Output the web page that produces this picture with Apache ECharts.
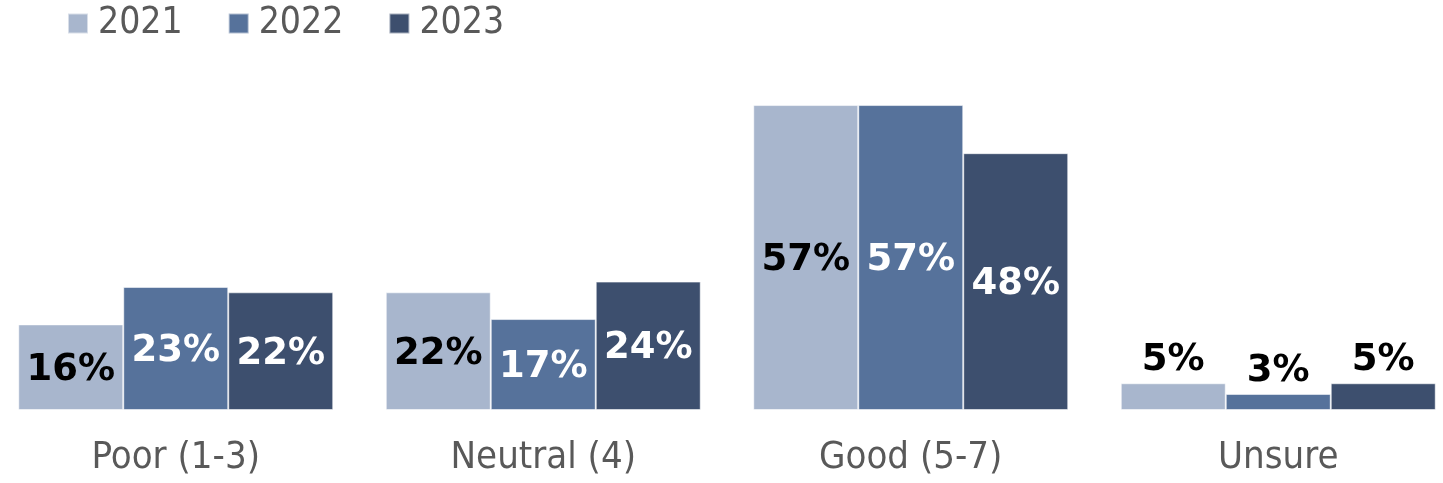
<!DOCTYPE html>
<html>
<head>
<meta charset="utf-8">
<script src="https://cdn.jsdelivr.net/npm/echarts@6/dist/echarts.min.js"></script>
<style>
  html, body { margin: 0; padding: 0; background: #fff; }
  #chart { width: 1443px; height: 483px; }
</style>
</head>
<body>
<div id="chart"></div>
<script>
// Survey rating distribution by year (percent of respondents)
const categories = ['Poor (1-3)', 'Neutral (4)', 'Good (5-7)', 'Unsure'];
const years = ['2021', '2022', '2023'];
const values2021 = [16, 22, 57, 5];
const values2022 = [23, 17, 57, 3];
const values2023 = [22, 24, 48, 5];

const seriesValues = [values2021, values2022, values2023];
const colors = ['#A8B6CD', '#56729B', '#3D4F6E'];
const insideLabelColors = ['#000000', '#ffffff', '#ffffff'];

const FONT = '"DejaVu Sans Condensed", "DejaVu Sans", Verdana, sans-serif';
const LABEL_FONT = '"DejaVu Sans", Verdana, sans-serif';

const chart = echarts.init(document.getElementById('chart'), null, { renderer: 'canvas' });

const series = years.map((year, i) => ({
  name: year,
  type: 'bar',
  barGap: '0%',
  barCategoryGap: '14.3%',
  itemStyle: {
    color: colors[i],
    borderColor: 'rgba(255,255,255,0.55)',
    borderWidth: 1
  },
  data: seriesValues[i].map(v => {
    const small = v < 10;
    return {
      value: v,
      label: {
        show: true,
        position: small ? 'top' : 'inside',
        distance: 4,
        offset: small ? [0, 0] : [0, 3],
        color: small ? '#000000' : insideLabelColors[i],
        fontFamily: LABEL_FONT,
        fontWeight: 'bold',
        fontSize: 37,
        formatter: p => p.value + '%'
      }
    };
  })
}));

chart.setOption({
  animation: false,
  color: colors,
  legend: {
    data: years,
    left: 62,
    top: 0,
    icon: 'rect',
    itemWidth: 20,
    itemHeight: 20,
    itemGap: 45,
    textStyle: {
      fontFamily: FONT,
      fontSize: 37,
      color: '#595959',
      padding: [0, 0, 0, 5]
    }
  },
  grid: {
    left: -8,
    right: -19,
    top: 89,
    bottom: 73,
    containLabel: false,
    outerBoundsMode: 'none'
  },
  xAxis: {
    type: 'category',
    data: categories,
    axisLine: { show: false },
    axisTick: { show: false },
    axisLabel: {
      margin: 29,
      fontFamily: FONT,
      fontSize: 38,
      color: '#595959'
    }
  },
  yAxis: {
    type: 'value',
    min: 0,
    max: 60,
    show: false,
    splitLine: { show: false }
  },
  series: series
});
</script>
</body>
</html>
